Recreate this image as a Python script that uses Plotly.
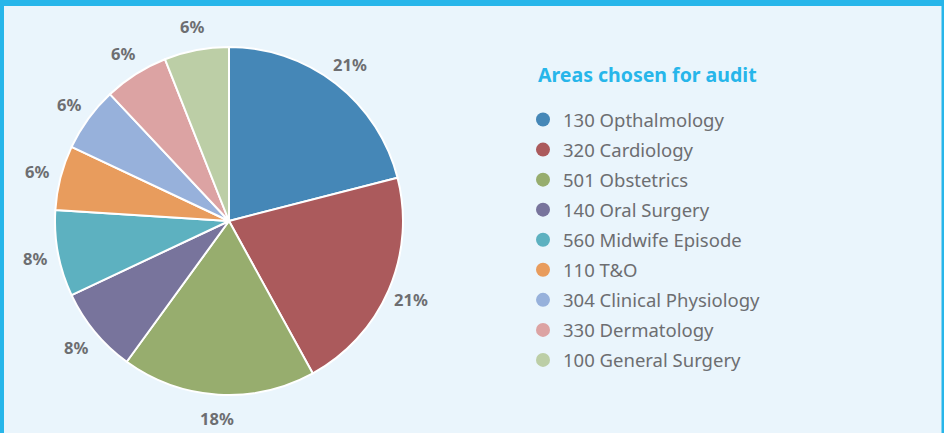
import math
import plotly.graph_objects as go

categories = ["130 Opthalmology", "320 Cardiology", "501 Obstetrics", "140 Oral Surgery",
              "560 Midwife Episode", "110 T&O", "304 Clinical Physiology",
              "330 Dermatology", "100 General Surgery"]
values = [21, 21, 18, 8, 8, 6, 6, 6, 6]
colors = ["#4587b7", "#ab5a5c", "#97ad6e", "#78749c", "#5db1c0",
          "#e89c5d", "#97b1db", "#dca3a3", "#bccea6"]
legend_title = "Areas chosen for audit"

W, H = 944, 433
BG = "#eaf5fc"
ACCENT = "#27b6ea"
GREY = "#6d6e71"
CX, CY, R = 229, 221, 174      # pie centre / radius in pixels
LABEL_R = R + 24               # label distance from centre

fig = go.Figure()
fig.add_trace(go.Pie(
    labels=categories, values=values, sort=False, direction="clockwise", rotation=0,
    marker=dict(colors=colors, line=dict(color="white", width=2)),
    textinfo="none", showlegend=False, hoverinfo="label+percent",
    domain=dict(x=[(CX - R) / W, (CX + R) / W], y=[(H - CY - R) / H, (H - CY + R) / H]),
))

# percentage labels placed around the pie, centred on each slice's mid angle
total = sum(values)
annotations = []
cum = 0
for v in values:
    mid = (cum + v / 2) / total * 2 * math.pi
    cum += v
    px = CX + LABEL_R * math.sin(mid)
    py = CY - LABEL_R * math.cos(mid)
    annotations.append(dict(
        text=f"<b>{round(v / total * 100)}%</b>", xref="paper", yref="paper",
        x=px / W, y=1 - py / H, xanchor="center", yanchor="middle", showarrow=False,
        font=dict(family="Noto Sans", size=16.5, color=GREY)))

annotations.append(dict(text=f"<b>{legend_title}</b>", xref="paper", yref="paper",
                        x=536 / W, y=1 - 74 / H, xanchor="left", yanchor="middle",
                        showarrow=False, font=dict(family="Noto Sans", size=19.5, color=ACCENT)))

for i, (c, col) in enumerate(zip(categories, colors)):
    fig.add_trace(go.Scatter(
        x=[None], y=[None], mode="markers", name=c, legendgroup=f"g{i}",
        marker=dict(color=col, size=14, symbol="circle"), showlegend=True,
    ))

fig.update_layout(
    width=W, height=H, margin=dict(l=0, r=0, t=0, b=0),
    paper_bgcolor=BG, plot_bgcolor=BG,
    xaxis=dict(visible=False), yaxis=dict(visible=False),
    showlegend=True,
    legend=dict(x=523 / W, xanchor="left", y=1 - 101 / H, yanchor="top",
                bgcolor="rgba(0,0,0,0)", tracegroupgap=3,
                font=dict(family="Noto Sans", size=18.5, color=GREY)),
    annotations=annotations,
    shapes=[
        dict(type="rect", xref="paper", yref="paper", x0=0, x1=1, y0=1 - 6 / H, y1=1,
             fillcolor=ACCENT, line=dict(width=0), layer="above"),
        dict(type="rect", xref="paper", yref="paper", x0=0, x1=4 / W, y0=0, y1=1,
             fillcolor=ACCENT, line=dict(width=0), layer="above"),
        dict(type="rect", xref="paper", yref="paper", x0=1 - 2.5 / W, x1=1, y0=0, y1=1,
             fillcolor=ACCENT, line=dict(width=0), layer="above"),
    ],
)

fig.write_html("out.html", config={"displayModeBar": False},
               post_script="document.body.style.margin='0';")
